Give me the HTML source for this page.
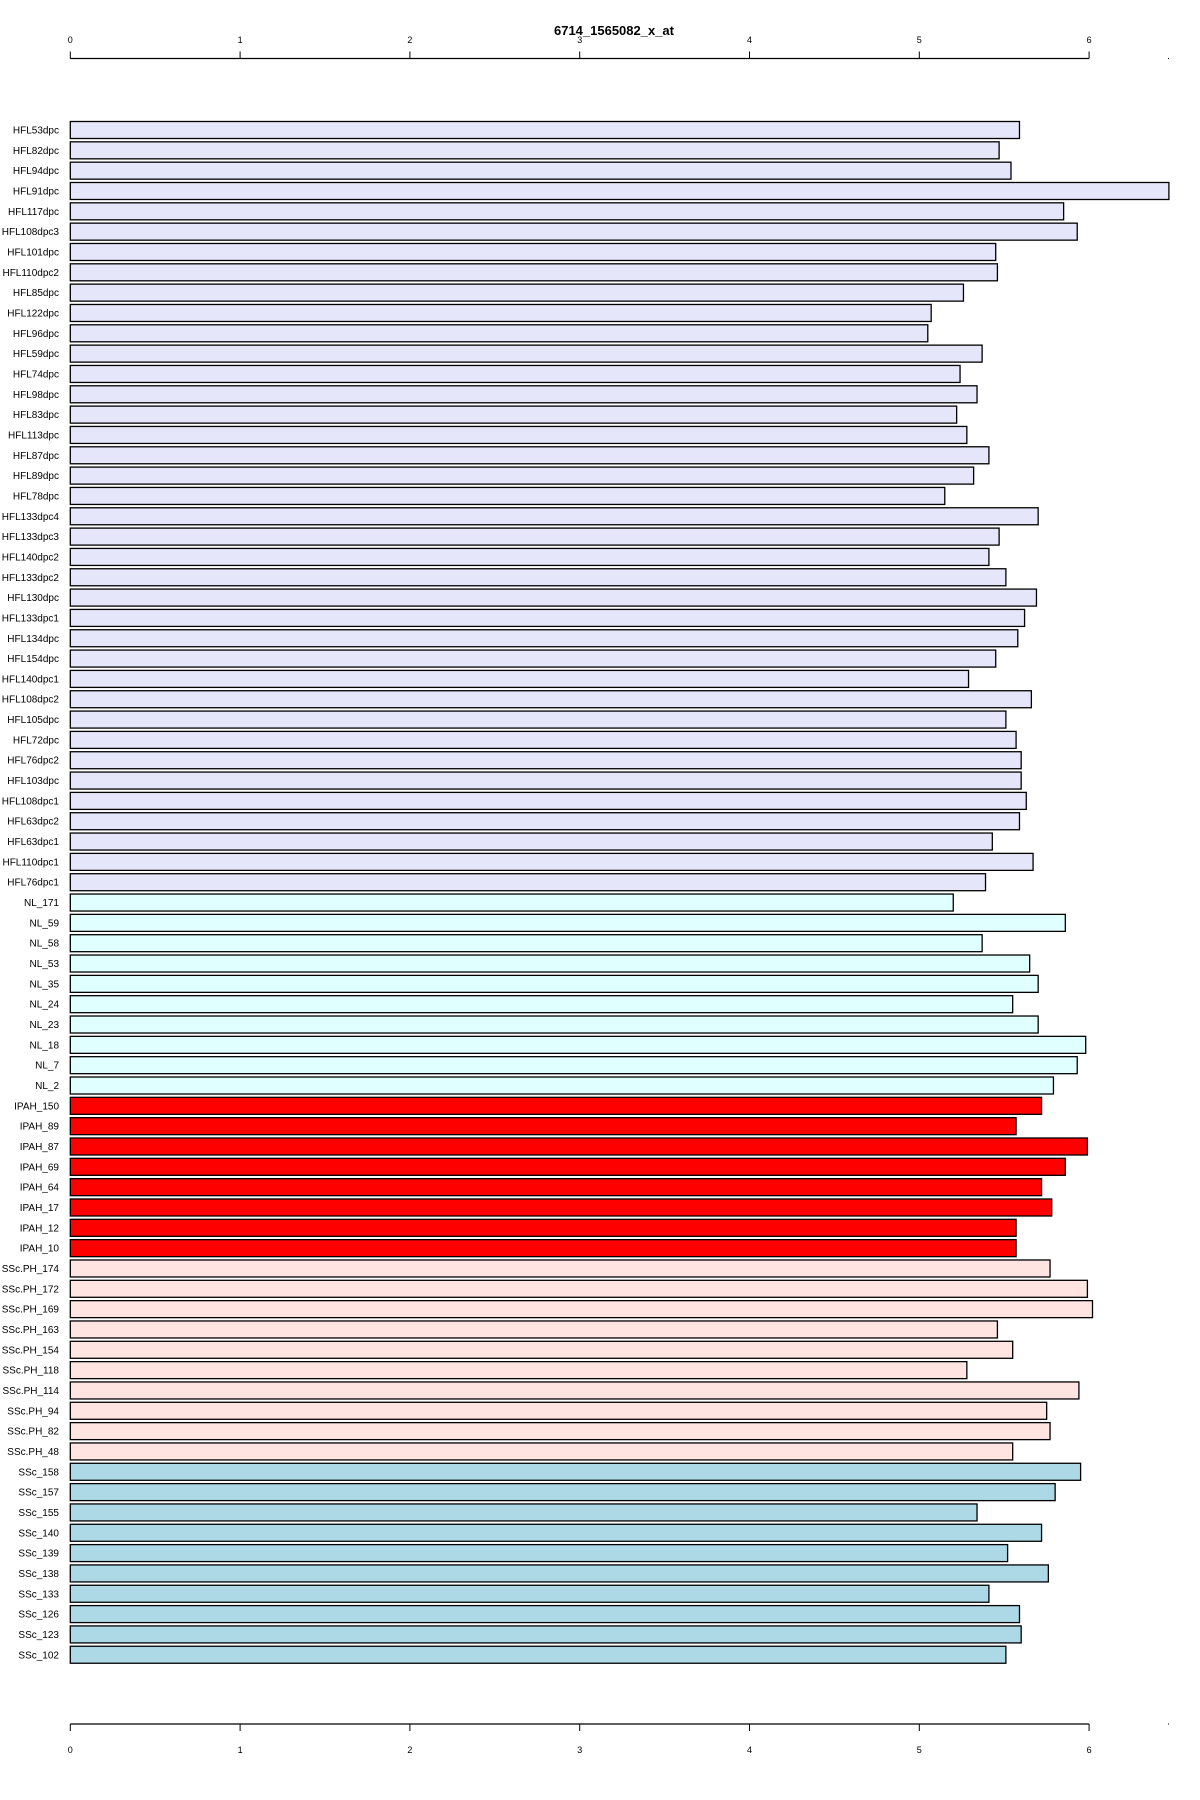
<!DOCTYPE html>
<html><head><meta charset="utf-8"><style>
body{margin:0;background:#fff;}
svg{display:block;font-family:"Liberation Sans",Arial,sans-serif;}
</style></head><body>
<svg id="chart" width="1200" height="1800" xmlns="http://www.w3.org/2000/svg">
<text x="614" y="35" font-size="13" font-weight="bold" text-anchor="middle">6714_1565082_x_at</text>
<g id="bars"></g>
<g id="axes"></g>
</svg>
<script>
const labels=["HFL53dpc","HFL82dpc","HFL94dpc","HFL91dpc","HFL117dpc","HFL108dpc3","HFL101dpc","HFL110dpc2","HFL85dpc","HFL122dpc","HFL96dpc","HFL59dpc","HFL74dpc","HFL98dpc","HFL83dpc","HFL113dpc","HFL87dpc","HFL89dpc","HFL78dpc","HFL133dpc4","HFL133dpc3","HFL140dpc2","HFL133dpc2","HFL130dpc","HFL133dpc1","HFL134dpc","HFL154dpc","HFL140dpc1","HFL108dpc2","HFL105dpc","HFL72dpc","HFL76dpc2","HFL103dpc","HFL108dpc1","HFL63dpc2","HFL63dpc1","HFL110dpc1","HFL76dpc1",
"NL_171","NL_59","NL_58","NL_53","NL_35","NL_24","NL_23","NL_18","NL_7","NL_2",
"IPAH_150","IPAH_89","IPAH_87","IPAH_69","IPAH_64","IPAH_17","IPAH_12","IPAH_10",
"SSc.PH_174","SSc.PH_172","SSc.PH_169","SSc.PH_163","SSc.PH_154","SSc.PH_118","SSc.PH_114","SSc.PH_94","SSc.PH_82","SSc.PH_48",
"SSc_158","SSc_157","SSc_155","SSc_140","SSc_139","SSc_138","SSc_133","SSc_126","SSc_123","SSc_102"];
const values=[5.59,5.47,5.54,6.47,5.85,5.93,5.45,5.46,5.26,5.07,5.05,5.37,5.24,5.34,5.22,5.28,5.41,5.32,5.15,5.70,5.47,5.41,5.51,5.69,5.62,5.58,5.45,5.29,5.66,5.51,5.57,5.60,5.60,5.63,5.59,5.43,5.67,5.39,
5.20,5.86,5.37,5.65,5.70,5.55,5.70,5.98,5.93,5.79,
5.72,5.57,5.99,5.86,5.72,5.78,5.57,5.57,
5.77,5.99,6.02,5.46,5.55,5.28,5.94,5.75,5.77,5.55,
5.95,5.80,5.34,5.72,5.52,5.76,5.41,5.59,5.60,5.51];
const groups=["HFL","NL","IPAH","SScPH","SSc"];
const groupSizes=[38,10,8,10,10];
const groupColors=["#e6e6fa","#e0ffff","#ff0000","#ffe4e1","#add8e6"];
const ticks=[0,1,2,3,4,5,6];

const NS="http://www.w3.org/2000/svg";
const X0=70.3, UNIT=169.8, Y0=130, PITCH=20.33, BH=17;
const xs=v=>X0+v*UNIT;
const ys=i=>Y0+i*PITCH;
const bars=document.getElementById('bars');
const colorOf=[];
groupSizes.forEach((n,g)=>{for(let k=0;k<n;k++)colorOf.push(groupColors[g]);});
values.forEach((v,i)=>{
  const r=document.createElementNS(NS,'rect');
  
  
  r.setAttribute('x',xs(0));r.setAttribute('y',ys(i)-BH/2);
  r.setAttribute('width',xs(v)-xs(0));r.setAttribute('height',BH);
  r.setAttribute('fill',colorOf[i]);r.setAttribute('stroke','#000');r.setAttribute('stroke-width','1.3');
  bars.appendChild(r);
  const t=document.createElementNS(NS,'text');
  
  
  t.setAttribute('x',59);t.setAttribute('y',ys(i)+3.5);
  t.setAttribute('font-size','10');t.setAttribute('text-anchor','end');
  t.textContent=labels[i];
  bars.appendChild(t);
});
const axes=document.getElementById('axes');
function axis(yLine,tickDir,labelY,name){
  const l=document.createElementNS(NS,'line');
  
  
  l.setAttribute('x1',xs(0));l.setAttribute('x2',xs(ticks[ticks.length-1]));
  l.setAttribute('y1',yLine);l.setAttribute('y2',yLine);l.setAttribute('stroke','#000');l.setAttribute('stroke-width','1.3');
  axes.appendChild(l);
  ticks.forEach(tv=>{
    const tk=document.createElementNS(NS,'line');
    
    
    tk.setAttribute('x1',xs(tv));tk.setAttribute('x2',xs(tv));
    tk.setAttribute('y1',yLine);tk.setAttribute('y2',yLine+tickDir*7);tk.setAttribute('stroke','#000');
    axes.appendChild(tk);
    const tl=document.createElementNS(NS,'text');
    
    
    tl.setAttribute('x',xs(tv));tl.setAttribute('y',labelY);
    tl.setAttribute('font-size','9');tl.setAttribute('text-anchor','middle');
    tl.textContent=tv;
    axes.appendChild(tl);
  });
  const d=document.createElementNS(NS,'rect');
  
  
  d.setAttribute('x',1168);d.setAttribute('y',yLine-0.5);d.setAttribute('width',1);d.setAttribute('height',1);d.setAttribute('fill','#000');
  axes.appendChild(d);
}
axis(58.5,-1,43,'top-axis');
axis(1724,1,1753,'bottom-axis');
</script>
</body></html>
